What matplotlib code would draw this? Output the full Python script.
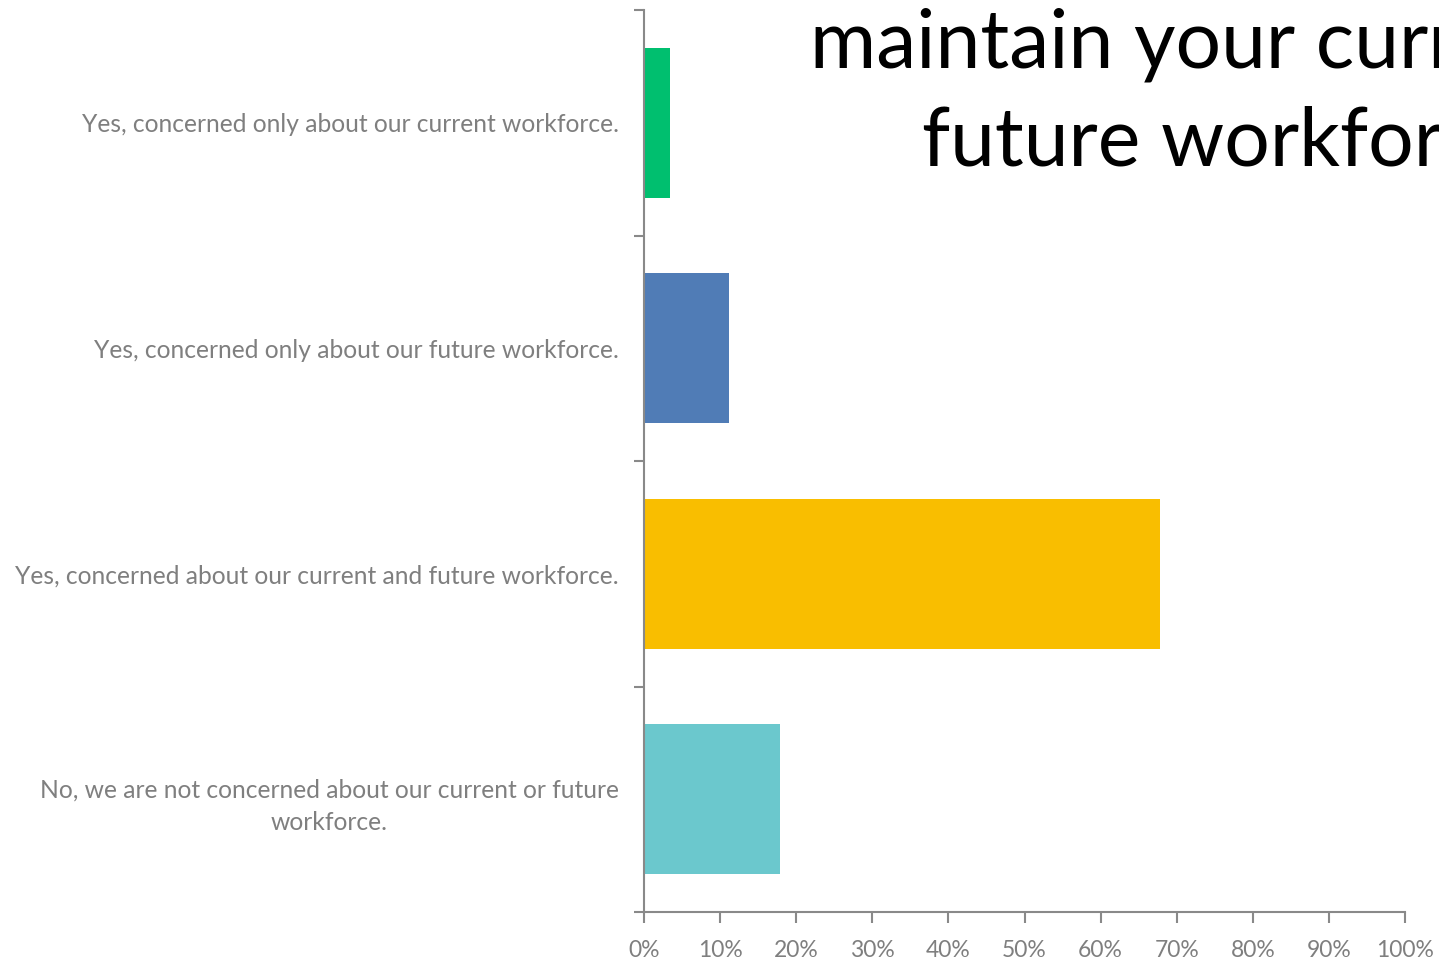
import numpy as np
import matplotlib.pyplot as plt

# Survey answers (top to bottom) and share of respondents
answers = [
    "Yes, concerned only about our current workforce.",
    "Yes, concerned only about our future workforce.",
    "Yes, concerned about our current and future workforce.",
    "No, we are not concerned about our current or future\nworkforce.",
]
shares = [3.4, 11.2, 67.8, 17.9]
bar_colors = ["#00BF6F", "#507CB6", "#F9BE00", "#6BC8CD"]
xticks = np.arange(0, 101, 10)
xtick_labels = [f"{v}%" for v in xticks]
title_lines = ["maintain your current and", "future workforce?"]

plt.rcParams["font.family"] = ["Lato", "DejaVu Sans"]

W, H = 1439, 959
fig = plt.figure(figsize=(W / 100, H / 100), dpi=100)
ax = fig.add_axes([644 / W, (H - 912) / H, (1405 - 644) / W, (912 - 10) / H])

ypos = np.arange(len(answers))
ax.barh(ypos, shares, height=0.665, color=bar_colors)
ax.set_ylim(len(answers) - 0.5, -0.5)
ax.set_xlim(0, 100)

grey = "#898989"
ax.set_xticks(xticks)
ax.set_xticklabels(xtick_labels, fontsize=16.5, color="#7f7f7f")
ax.set_yticks(ypos)
ax.set_yticklabels(answers, fontsize=17.7, color="#7f7f7f",
                   multialignment="center", linespacing=1.5)
ax.tick_params(axis="y", length=0, pad=18)
ax.tick_params(axis="x", length=8, width=1.5, color=grey, pad=12)
# category boundary ticks on y axis
ax.set_yticks(np.arange(-0.5, len(answers), 1), minor=True)
ax.tick_params(axis="y", which="minor", length=7, width=1.5, color=grey)

for side in ["top", "right"]:
    ax.spines[side].set_visible(False)
for side in ["left", "bottom"]:
    ax.spines[side].set_color(grey)
    ax.spines[side].set_linewidth(1.5)

fig.text(810 / W, (H - 68) / H, title_lines[0], fontsize=58, color="black",
         ha="left", va="baseline")
fig.text(922 / W, (H - 165) / H, title_lines[1], fontsize=58, color="black",
         ha="left", va="baseline")

fig.savefig("out.png", dpi=100)
